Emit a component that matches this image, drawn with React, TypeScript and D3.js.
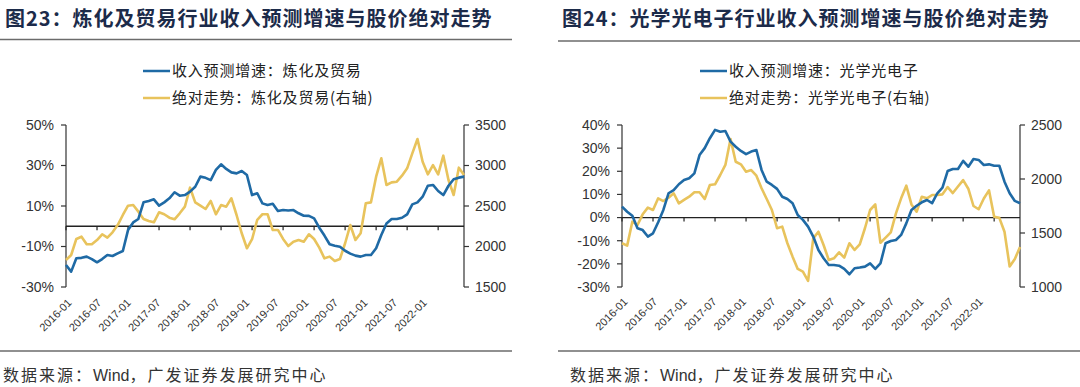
import React, { useEffect } from 'react';
import * as d3 from 'd3';

// Monthly categories 2016-01 .. 2022-06
const months: string[] = d3
  .timeMonths(new Date(2016, 0, 1), new Date(2022, 6, 1))
  .map(d3.timeFormat('%Y-%m'));

const tickLabels = [
  '2016-01', '2016-07', '2017-01', '2017-07', '2018-01', '2018-07', '2019-01',
  '2019-07', '2020-01', '2020-07', '2021-01', '2021-07', '2022-01',
];

// Chart 23: 炼化及贸易
const refiningGrowth = [
  -19.1, -22.4, -15.8, -15.6, -15.0, -16.2, -17.8, -16.2, -14.2, -14.7,
  -13.4, -12.2, -1.9, 1.9, 3.6, 11.8, 12.5, 13.3, 10.2, 11.8,
  13.8, 16.8, 15.1, 15.4, 17.1, 19.5, 24.5, 23.9, 22.8, 27.8,
  30.6, 28.3, 26.6, 26.1, 27.3, 25.3, 15.4, 16.3, 11.3, 10.5,
  11.1, 7.5, 8.0, 7.8, 8.0, 6.4, 5.2, 5.1, 3.9, -0.7,
  -4.6, -8.9, -9.6, -10.1, -12.1, -13.5, -14.5, -15.0, -14.2, -14.2,
  -10.9, -4.3, 1.4, 3.6, 3.6, 4.2, 5.9, 10.8, 11.8, 14.6,
  20.0, 20.4, 17.4, 15.4, 20.0, 23.2, 24.0, 24.5,
];
const refiningPrice = [
  1833, 1895, 2093, 2121, 2027, 2027, 2080, 2151, 2109, 2175,
  2265, 2389, 2504, 2512, 2430, 2340, 2315, 2299, 2422, 2398,
  2356, 2336, 2410, 2492, 2726, 2545, 2504, 2463, 2562, 2398,
  2512, 2492, 2595, 2389, 2163, 1978, 2090, 2330, 2398, 2398,
  2204, 2204, 2093, 2006, 2060, 2080, 2060, 2151, 2093, 1986,
  1854, 1875, 1821, 1846, 2040, 2265, 2080, 2163, 2533, 2545,
  2862, 3089, 2759, 2792, 2800, 2874, 2965, 3150, 3327, 3047,
  2891, 3006, 2891, 3121, 2821, 2636, 2973, 2883,
];

// Chart 24: 光学光电子
const opticsGrowth = [
  4.7, 2.5, 0.8, -4.6, -5.4, -8.2, -6.8, -2.0, 3.3, 10.5,
  11.9, 14.4, 16.2, 17.0, 19.1, 27.0, 30.0, 34.3, 37.9, 37.1,
  37.4, 32.8, 30.6, 28.8, 27.4, 28.5, 29.2, 20.6, 15.5, 14.1,
  12.4, 9.0, 8.0, 6.2, 1.1, -1.0, -3.9, -8.2, -14.0, -17.6,
  -20.5, -20.5, -20.8, -22.2, -24.5, -21.9, -21.6, -21.2, -19.8, -22.2,
  -19.8, -11.1, -10.1, -9.7, -7.5, -2.5, 3.3, 5.1, 6.6, 7.6,
  6.2, 10.5, 12.9, 20.1, 21.0, 21.0, 24.5, 22.0, 25.3, 24.9,
  22.7, 23.0, 22.4, 22.4, 15.5, 10.5, 7.2, 6.2,
];
const opticsPrice = [
  1405, 1383, 1605, 1574, 1673, 1735, 1713, 1821, 1796, 1827,
  1868, 1775, 1806, 1836, 1877, 1877, 1815, 1944, 1951, 2037,
  2130, 2370, 2160, 2136, 2068, 2083, 2031, 1914, 1815, 1713,
  1544, 1559, 1405, 1281, 1167, 1142, 1056, 1450, 1512, 1389,
  1250, 1266, 1321, 1272, 1405, 1343, 1395, 1544, 1713, 1765,
  1410, 1457, 1506, 1682, 1821, 1938, 1765, 1697, 1836, 1821,
  1852, 1852, 1858, 1925, 1870, 1930, 1990, 1910, 1750, 1720,
  1820, 1895, 1650, 1640, 1512, 1190, 1260, 1370,
];

const refiningLeftTicks = [-30, -10, 10, 30, 50];
const refiningRightTicks = [1500, 2000, 2500, 3000, 3500];
const opticsLeftTicks = [-30, -20, -10, 0, 10, 20, 30, 40];
const opticsRightTicks = [1000, 1500, 2000, 2500];

const BLUE = '#1f6aa5';
const YELLOW = '#e8c35c';
const CJK = "'Noto Sans CJK SC', 'Noto Sans', sans-serif";
const LATIN = "'Liberation Sans', Arial, sans-serif";

type ChartProps = {
  title: string;
  titleX: number;
  ruleX0: number;
  ruleX1: number;
  ruleTopY: number;
  legendX: number;
  legend1: string;
  legend2: string;
  plotX0: number;
  plotX1: number;
  growth: number[];
  price: number[];
  leftTicks: number[];
  rightTicks: number[];
  sourceX: number;
  labelTopY: number;
};

function Chart(p: ChartProps) {
  const top = 125;
  const bottom = 287;
  const x = d3.scalePoint<string>().domain(months).range([p.plotX0, p.plotX1]);
  const yL = d3
    .scaleLinear()
    .domain([p.leftTicks[0], p.leftTicks[p.leftTicks.length - 1]])
    .range([bottom, top]);
  const yR = d3
    .scaleLinear()
    .domain([p.rightTicks[0], p.rightTicks[p.rightTicks.length - 1]])
    .range([bottom, top]);
  const xLab = d3
    .scaleLinear()
    .domain([0, tickLabels.length - 1])
    .range([p.plotX0 + 1, (x(tickLabels[tickLabels.length - 1]) as number) - 16]);

  const lineL = d3
    .line<number>()
    .x((_, i) => x(months[i]) as number)
    .y((d) => yL(d));
  const lineR = d3
    .line<number>()
    .x((_, i) => x(months[i]) as number)
    .y((d) => yR(d));
  const zeroY = yL(0);

  return (
    <g>
      <text
        x={p.titleX}
        y={26}
        fontFamily={CJK}
        fontWeight="bold"
        fontSize={20}
        letterSpacing={1}
        fill="#1c2b4a"
      >
        {p.title}
      </text>
      <line x1={p.ruleX0} x2={p.ruleX1} y1={p.ruleTopY} y2={p.ruleTopY} stroke="#6b6b6b" strokeWidth={1.5} />

      {/* legend */}
      <line x1={p.legendX} x2={p.legendX + 27} y1={71} y2={71} stroke={BLUE} strokeWidth={2.5} />
      <text x={p.legendX + 29} y={76} fontFamily={CJK} fontSize={15} letterSpacing={0.8} fill="#222">
        {p.legend1}
      </text>
      <line x1={p.legendX} x2={p.legendX + 27} y1={98} y2={98} stroke={YELLOW} strokeWidth={2.5} />
      <text x={p.legendX + 29} y={103} fontFamily={CJK} fontSize={15} letterSpacing={0.8} fill="#222">
        {p.legend2}
      </text>

      {/* axes */}
      <line x1={p.plotX0} x2={p.plotX0} y1={top} y2={bottom} stroke="#333" strokeWidth={1.2} />
      <line x1={p.plotX1} x2={p.plotX1} y1={top} y2={bottom} stroke="#333" strokeWidth={1.2} />
      {p.leftTicks.map((t) => (
        <g key={'l' + t}>
          <line x1={p.plotX0 - 5} x2={p.plotX0} y1={yL(t)} y2={yL(t)} stroke="#333" strokeWidth={1.2} />
          <text
            x={p.plotX0 - 12}
            y={yL(t)}
            dy="0.35em"
            textAnchor="end"
            fontFamily={LATIN}
            fontSize={14}
            fill="#333"
          >
            {t + '%'}
          </text>
        </g>
      ))}
      {p.rightTicks.map((t) => (
        <g key={'r' + t}>
          <line x1={p.plotX1} x2={p.plotX1 + 5} y1={yR(t)} y2={yR(t)} stroke="#333" strokeWidth={1.2} />
          <text
            x={p.plotX1 + 11}
            y={yR(t)}
            dy="0.35em"
            textAnchor="start"
            fontFamily={LATIN}
            fontSize={14}
            fill="#333"
          >
            {t}
          </text>
        </g>
      ))}
      <line x1={p.plotX0} x2={p.plotX1} y1={zeroY} y2={zeroY} stroke="#222" strokeWidth={1.3} />
      {tickLabels.map((lab, k) => (
        <g key={lab}>
          <line
            x1={x(lab) as number}
            x2={x(lab) as number}
            y1={zeroY}
            y2={zeroY + 4}
            stroke="#222"
            strokeWidth={1.2}
          />
          <text
            transform={`translate(${xLab(k)},${p.labelTopY}) rotate(-45)`}
            textAnchor="end"
            dy="0.7em"
            fontFamily={LATIN}
            fontSize={11}
            fill="#333"
          >
            {lab}
          </text>
        </g>
      ))}

      <path d={lineR(p.price) || ''} fill="none" stroke={YELLOW} strokeWidth={2.6} strokeLinejoin="round" />
      <path d={lineL(p.growth) || ''} fill="none" stroke={BLUE} strokeWidth={2.6} strokeLinejoin="round" />

      <line x1={p.ruleX0} x2={p.ruleX1} y1={351} y2={351} stroke="#6b6b6b" strokeWidth={1.5} />
      <text x={p.sourceX} y={381} fontFamily={CJK} fontSize={16} letterSpacing={2} fill="#333">
        数据来源：<tspan fontFamily={LATIN} letterSpacing={0}>Wind</tspan>，广发证券发展研究中心
      </text>
    </g>
  );
}

export default function App() {
  useEffect(() => {
    document.body.style.margin = '0';
  }, []);
  return (
    <svg
      width={1080}
      height={387}
      style={{ position: 'absolute', left: 0, top: 0, background: '#fff' }}
    >
      <Chart
        title="图23：炼化及贸易行业收入预测增速与股价绝对走势"
        titleX={5}
        ruleX0={0}
        ruleX1={512}
        ruleTopY={39.5}
        legendX={143}
        legend1="收入预测增速：炼化及贸易"
        legend2="绝对走势：炼化及贸易(右轴)"
        plotX0={66}
        plotX1={464}
        growth={refiningGrowth}
        price={refiningPrice}
        leftTicks={refiningLeftTicks}
        rightTicks={refiningRightTicks}
        sourceX={3}
        labelTopY={298}
      />
      <Chart
        title="图24：光学光电子行业收入预测增速与股价绝对走势"
        titleX={562}
        ruleX0={558}
        ruleX1={1080}
        ruleTopY={41}
        legendX={700}
        legend1="收入预测增速：光学光电子"
        legend2="绝对走势：光学光电子(右轴)"
        plotX0={622}
        plotX1={1020}
        growth={opticsGrowth}
        price={opticsPrice}
        leftTicks={opticsLeftTicks}
        rightTicks={opticsRightTicks}
        sourceX={570}
        labelTopY={297}
      />
    </svg>
  );
}
